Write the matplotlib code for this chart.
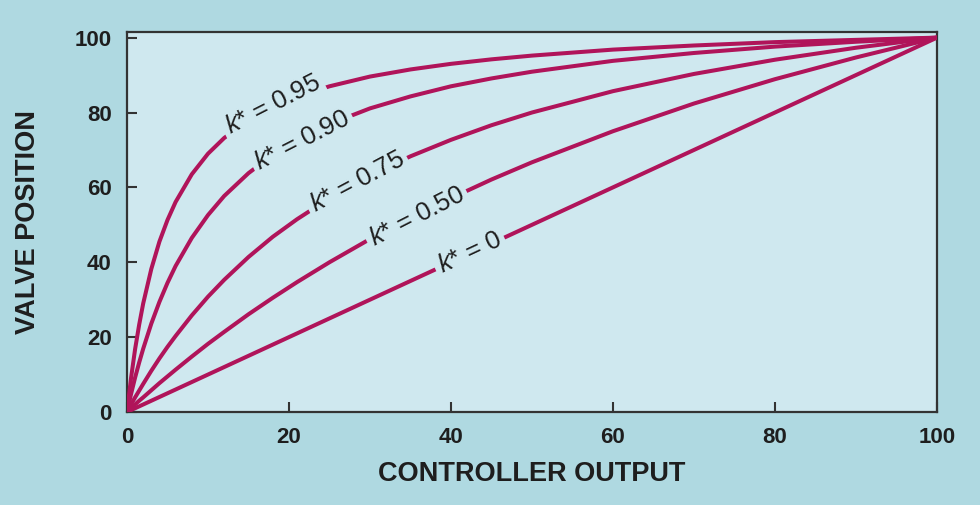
import matplotlib
matplotlib.use("Agg")
import matplotlib.pyplot as plt

plt.rcParams['font.family'] = ['Liberation Sans', 'DejaVu Sans']
plt.rcParams['mathtext.fontset'] = 'custom'
plt.rcParams['mathtext.rm'] = 'Liberation Sans'
plt.rcParams['mathtext.it'] = 'Liberation Sans:italic'

# Data
controller_output = [0, 0.5, 1, 1.5, 2, 3, 4, 5, 6, 8, 10, 12, 15, 18, 21, 25,
                     30, 35, 40, 45, 50, 60, 70, 80, 90, 100]
valve_k095 = [0, 9.1, 16.8, 23.3, 29.0, 38.2, 45.5, 51.3, 56.1, 63.5, 69.0, 73.2, 77.9,
              81.4, 84.2, 87.0, 89.6, 91.5, 93.0, 94.2, 95.2, 96.8, 97.9, 98.8, 99.4, 100]
valve_k090 = [0, 4.8, 9.2, 13.2, 16.9, 23.6, 29.4, 34.5, 39.0, 46.5, 52.6, 57.7, 63.8,
              68.7, 72.7, 76.9, 81.1, 84.3, 87.0, 89.1, 90.9, 93.8, 95.9, 97.6, 98.9, 100]
valve_k075 = [0, 2.0, 3.9, 5.7, 7.5, 11.0, 14.3, 17.4, 20.3, 25.8, 30.8, 35.3, 41.4,
              46.8, 51.5, 57.1, 63.2, 68.3, 72.7, 76.6, 80.0, 85.7, 90.3, 94.1, 97.3, 100]
valve_k050 = [0, 1.0, 2.0, 3.0, 3.9, 5.8, 7.7, 9.5, 11.3, 14.8, 18.2, 21.4, 26.1,
              30.5, 34.7, 40.0, 46.2, 51.9, 57.1, 62.1, 66.7, 75.0, 82.4, 88.9, 94.7, 100]
valve_k000 = [0, 0.5, 1, 1.5, 2, 3, 4, 5, 6, 8, 10, 12, 15, 18, 21, 25,
              30, 35, 40, 45, 50, 60, 70, 80, 90, 100]

series = [valve_k095, valve_k090, valve_k075, valve_k050, valve_k000]
labels = ["0.95", "0.90", "0.75", "0.50", "0"]
label_x = [18.0, 21.6, 28.4, 35.8, 42.3]
label_y = [82.0, 72.6, 61.4, 52.1, 42.5]
label_rot = [27, 27, 28, 27, 25]

xticks = [0, 20, 40, 60, 80, 100]
yticks = [0, 20, 40, 60, 80, 100]

outer_bg = '#afd9e1'
inner_bg = '#cfe8ef'
curve_color = '#b0145a'
text_color = '#1e1e1e'
spine_color = '#333333'

fig = plt.figure(figsize=(9.8, 5.05), dpi=100, facecolor=outer_bg)
ax = fig.add_axes([0.1296, 0.1842, 0.8265, 0.7524])
ax.set_facecolor(inner_bg)

for ys in series:
    ax.plot(controller_output, ys, color=curve_color, lw=2.9,
            solid_capstyle='round', solid_joinstyle='round', zorder=3)

for lab, lx, ly, rot in zip(labels, label_x, label_y, label_rot):
    ax.text(lx, ly, r"$k$* = " + lab, fontsize=18.5, color=text_color,
            rotation=rot, rotation_mode='anchor', ha='center', va='center',
            zorder=5,
            bbox=dict(facecolor=inner_bg, edgecolor='none', pad=3))

ax.set_xlim(0, 100)
ax.set_ylim(0, 101.5)
ax.set_xticks(xticks)
ax.set_yticks(yticks)
ax.tick_params(direction='in', length=7, width=1.5, color=spine_color,
               labelsize=16, labelcolor=text_color)
ax.tick_params(axis='x', pad=11)
ax.tick_params(axis='y', pad=11)
for t in ax.get_xticklabels() + ax.get_yticklabels():
    t.set_fontweight('bold')
for s in ax.spines.values():
    s.set_color(spine_color)
    s.set_linewidth(1.6)

ax.set_xlabel("CONTROLLER OUTPUT", fontsize=19.5, color=text_color, labelpad=9,
              fontweight='bold')
ax.set_ylabel("VALVE POSITION", fontsize=19.5, color=text_color, labelpad=24,
              fontweight='bold')

fig.savefig("out.png", dpi=100, facecolor=outer_bg)
